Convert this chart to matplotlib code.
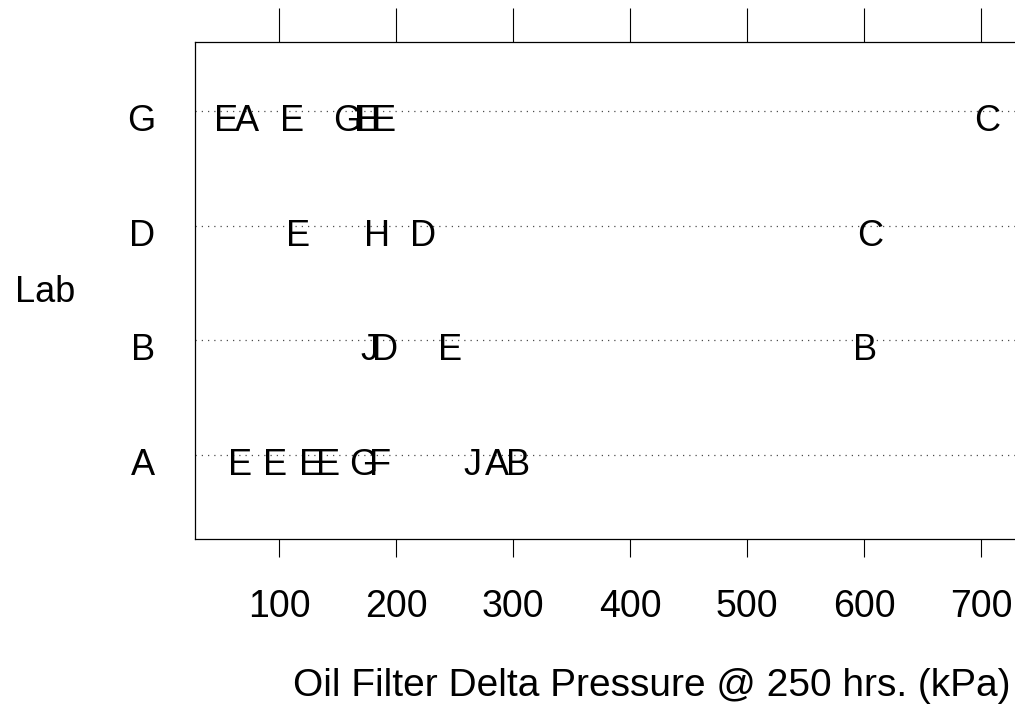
import matplotlib.pyplot as plt

plt.rcParams['font.family'] = ['Liberation Sans', 'DejaVu Sans']

# lab levels, bottom to top
labs = ['A', 'B', 'D', 'G']

# one entry per filter test: lab, oil code, delta pressure (kPa)
lab = ['G', 'G', 'G', 'G', 'G', 'G', 'G', 'G',
       'D', 'D', 'D', 'D',
       'B', 'B', 'B', 'B',
       'A', 'A', 'A', 'A', 'A', 'A', 'A', 'A', 'A']
oil = ['E', 'A', 'E', 'G', 'H', 'E', 'E', 'C',
       'E', 'H', 'D', 'C',
       'J', 'D', 'E', 'B',
       'E', 'E', 'E', 'E', 'G', 'F', 'J', 'A', 'B']
pressure = [55, 73, 111, 158, 175, 176, 190, 705,
            116, 184, 223, 605,
            177, 191, 246, 601,
            67, 97, 127, 142, 172, 186, 265, 286, 304]

xticks = [100, 200, 300, 400, 500, 600, 700]

fig = plt.figure(figsize=(10.15, 7.1), dpi=100)
# panel runs off the right edge of the figure
ax = fig.add_axes([195 / 1015, 1 - 539 / 710, (1109 - 195) / 1015, (539 - 42) / 710])
ax.set_xlim(28.2, 809.4)
ax.set_ylim(0.27, 4.6)

ypos = {l: i + 1 for i, l in enumerate(labs)}

# dotted reference lines
for l in labs:
    ax.axhline(ypos[l], color='0.3', lw=0.9, ls=(0, (1, 4)), zorder=1)

# letters as plotting symbols
for l, o, p in zip(lab, oil, pressure):
    ax.annotate(o, xy=(p, ypos[l]), xytext=(0, -14.4), textcoords='offset points',
                ha='center', va='baseline', fontsize=26, zorder=3)

# y labels
for l in labs:
    ax.annotate(l, xy=(0, ypos[l]), xycoords=('axes fraction', 'data'),
                xytext=(-28.8, -14.4), textcoords='offset points',
                ha='right', va='baseline', fontsize=26)
ax.set_yticks([])

ax.set_xticks(xticks)
ax.set_xticklabels([str(t) for t in xticks], fontsize=27)
ax.tick_params(axis='x', direction='out', length=13, width=0.8, pad=23)

top = ax.secondary_xaxis('top')
top.set_xticks(xticks)
top.set_xticklabels([])
top.tick_params(direction='out', length=24.5, width=0.8)
top.spines['top'].set_visible(False)

for s in ax.spines.values():
    s.set_linewidth(0.9)

fig.text(45 / 1015, 1 - 293 / 710, 'Lab', ha='center', va='center', fontsize=26)
ax.set_xlabel('Oil Filter Delta Pressure @ 250 hrs. (kPa)', fontsize=28, labelpad=31)

fig.savefig('out.png', dpi=100)
